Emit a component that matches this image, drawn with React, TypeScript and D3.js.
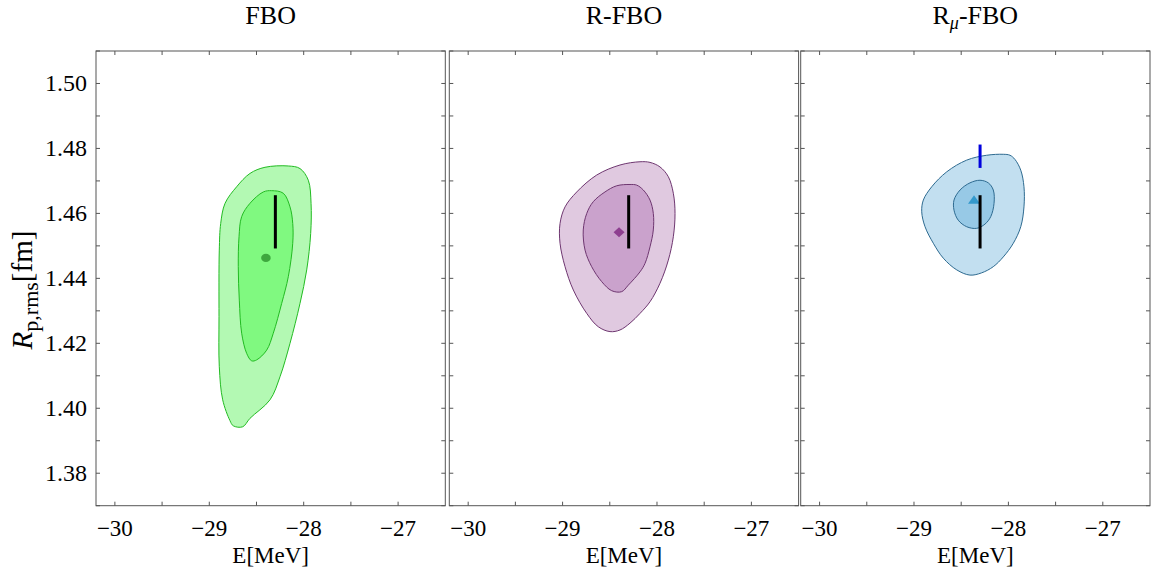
import React from "react";
import * as d3 from "d3";

// ---- Data ----
const eTicks = [-30, -29, -28, -27];
const eMinorTicks = [-30, -29.5, -29, -28.5, -28, -27.5, -27];
const rTicks = [1.38, 1.4, 1.42, 1.44, 1.46, 1.48, 1.5];
const rMinorTicks = [1.37, 1.38, 1.39, 1.4, 1.41, 1.42, 1.43, 1.44, 1.45, 1.46, 1.47, 1.48, 1.49, 1.5, 1.51];

const fboOuter: [number, number][] = [
  [-28.163, 1.4746], [-28.039, 1.4738], [-27.951, 1.4702], [-27.922, 1.4631], [-27.926, 1.4538],
  [-27.968, 1.4426], [-28.039, 1.4323], [-28.145, 1.42], [-28.251, 1.4097], [-28.357, 1.4026],
  [-28.569, 1.3969], [-28.646, 1.3943], [-28.746, 1.3946], [-28.781, 1.3962], [-28.858, 1.4026],
  [-28.894, 1.4128], [-28.897, 1.4282], [-28.894, 1.4487], [-28.879, 1.4569], [-28.833, 1.4631],
  [-28.71, 1.4682], [-28.569, 1.4723], [-28.41, 1.4742],
];
const fboInner: [number, number][] = [
  [-28.339, 1.467], [-28.216, 1.4662], [-28.145, 1.462], [-28.116, 1.4569], [-28.116, 1.4508],
  [-28.163, 1.4405], [-28.233, 1.4323], [-28.322, 1.4231], [-28.392, 1.4179], [-28.498, 1.4149],
  [-28.551, 1.4146], [-28.604, 1.4169], [-28.657, 1.4231], [-28.682, 1.4333], [-28.693, 1.4436],
  [-28.685, 1.4528], [-28.657, 1.459], [-28.569, 1.4631], [-28.428, 1.4666],
];
const rfboOuter: [number, number][] = [
  [-28.18, 1.4759], [-28.074, 1.4757], [-27.968, 1.4743], [-27.88, 1.4713], [-27.827, 1.4662],
  [-27.809, 1.46], [-27.827, 1.4528], [-27.88, 1.4456], [-27.968, 1.4385], [-28.074, 1.4328],
  [-28.18, 1.4292], [-28.286, 1.4262], [-28.392, 1.4241], [-28.498, 1.4236], [-28.622, 1.4251],
  [-28.744, 1.4292], [-28.886, 1.4364], [-28.974, 1.4436], [-29.027, 1.4508], [-29.027, 1.4569],
  [-28.974, 1.462], [-28.85, 1.4666], [-28.639, 1.4718], [-28.392, 1.4749],
];
const rfboInner: [number, number][] = [
  [-28.286, 1.4689], [-28.215, 1.4687], [-28.145, 1.4672], [-28.074, 1.4641], [-28.039, 1.46],
  [-28.039, 1.4549], [-28.074, 1.4497], [-28.127, 1.4446], [-28.18, 1.442], [-28.304, 1.4379],
  [-28.374, 1.4359], [-28.48, 1.4362], [-28.586, 1.439], [-28.692, 1.4436], [-28.762, 1.4487],
  [-28.781, 1.4549], [-28.744, 1.46], [-28.675, 1.4636], [-28.551, 1.4666], [-28.427, 1.4685],
];
const rmuOuter: [number, number][] = [
  [-28.054, 1.4782], [-27.983, 1.4779], [-27.93, 1.4766], [-27.869, 1.4733], [-27.835, 1.4682],
  [-27.835, 1.462], [-27.869, 1.4559], [-27.948, 1.4508], [-28.054, 1.4466], [-28.16, 1.4436],
  [-28.283, 1.4417], [-28.407, 1.441], [-28.547, 1.4426], [-28.689, 1.4462], [-28.795, 1.4508],
  [-28.883, 1.4559], [-28.918, 1.4605], [-28.901, 1.4641], [-28.812, 1.4682], [-28.653, 1.4728],
  [-28.442, 1.4764], [-28.23, 1.4779],
];
const rmuInner: [number, number][] = [
  [-28.301, 1.4702], [-28.213, 1.4694], [-28.16, 1.4672], [-28.152, 1.4631], [-28.187, 1.459],
  [-28.248, 1.4567], [-28.336, 1.4554], [-28.442, 1.4559], [-28.531, 1.4579], [-28.576, 1.461],
  [-28.576, 1.4641], [-28.512, 1.4672], [-28.407, 1.4694],
];

const centers: [number, number][] = [
  [-28.4, 1.4463],
  [-28.402, 1.4542],
  [-28.364, 1.4639],
];
const expE = -28.3;
const expR = [1.4492, 1.4656];
const muonicR = [1.474, 1.4812];

// ---- Layout ----
const W = 1159;
const H = 577;
const panelLefts = [96, 449.3, 800.7];
const panelW = 349.3;
const top = 51;
const bottom = 505.7;
const FONT = "'Liberation Serif', 'Times New Roman', serif";

const panels = [
  {
    outer: fboOuter, inner: fboInner,
    outerFill: "#b3f9b3", innerFill: "#80f980", stroke: "#22bb22", marker: "#3ea83e", kind: "circle",
  },
  {
    outer: rfboOuter, inner: rfboInner,
    outerFill: "#e0c9e0", innerFill: "#caa2cc", stroke: "#6e3670", marker: "#8e3f90", kind: "diamond",
  },
  {
    outer: rmuOuter, inner: rmuInner,
    outerFill: "#c2dff0", innerFill: "#97c9e6", stroke: "#2d6a90", marker: "#3399cc", kind: "triangle",
  },
];

function Title({ i, x }: { i: number; x: number }) {
  const common = { x, y: 24, textAnchor: "middle" as const, fontFamily: FONT, fontSize: 26, fill: "#000" };
  if (i === 0) return <text {...common}>FBO</text>;
  if (i === 1) return <text {...common}>R-FBO</text>;
  return (
    <text {...common}>
      R<tspan fontStyle="italic" fontSize={18} dy={5}>μ</tspan>
      <tspan dy={-5}>-FBO</tspan>
    </text>
  );
}

function Panel({ i }: { i: number }) {
  const p = panels[i];
  const left = panelLefts[i];
  const x = d3.scaleLinear().domain([-30.2, -26.5]).range([left, left + panelW]);
  const y = d3.scaleLinear().domain([1.37, 1.51]).range([bottom, top]);
  const line = d3
    .line<[number, number]>()
    .x((d) => x(d[0]))
    .y((d) => y(d[1]))
    .curve(d3.curveCatmullRomClosed.alpha(0.5));
  const [cx, cy] = [x(centers[i][0]), y(centers[i][1])];
  const tickLen = 4;
  const axisColor = "#555";
  let marker: React.ReactNode;
  if (p.kind === "circle") marker = <ellipse cx={cx} cy={cy} rx={4.8} ry={4.2} fill={p.marker} />;
  else if (p.kind === "diamond")
    marker = (
      <path d={`M${cx},${cy - 5}L${cx + 5.5},${cy}L${cx},${cy + 5}L${cx - 5.5},${cy}Z`} fill={p.marker} />
    );
  else
    marker = (
      <path d={`M${cx},${cy - 5.5}L${cx + 6},${cy + 3}L${cx - 6},${cy + 3}Z`} fill={p.marker} />
    );

  return (
    <g>
      <Title i={i} x={left + panelW / 2} />
      <path d={line(p.outer) ?? ""} fill={p.outerFill} stroke={p.stroke} strokeWidth={1} />
      <path d={line(p.inner) ?? ""} fill={p.innerFill} stroke={p.stroke} strokeWidth={1} />
      {marker}
      {i === 2 && (
        <line x1={x(expE)} x2={x(expE)} y1={y(muonicR[0])} y2={y(muonicR[1])} stroke="#0000dd" strokeWidth={3} />
      )}
      <line x1={x(expE)} x2={x(expE)} y1={y(expR[0])} y2={y(expR[1])} stroke="#000" strokeWidth={3} />
      {/* frame */}
      <rect x={left} y={top} width={panelW} height={bottom - top} fill="none" stroke={axisColor} strokeWidth={1} />
      {eMinorTicks.map((t) => (
        <g key={"xt" + t}>
          <line x1={x(t)} x2={x(t)} y1={bottom} y2={bottom - tickLen} stroke={axisColor} />
          <line x1={x(t)} x2={x(t)} y1={top} y2={top + tickLen} stroke={axisColor} />
        </g>
      ))}
      {rMinorTicks.map((t) => (
        <g key={"yt" + t}>
          <line x1={left} x2={left + tickLen} y1={y(t)} y2={y(t)} stroke={axisColor} />
          <line x1={left + panelW} x2={left + panelW - tickLen} y1={y(t)} y2={y(t)} stroke={axisColor} />
        </g>
      ))}
      {eTicks.map((t) => (
        <text key={"xl" + t} x={x(t)} y={535.5} textAnchor="middle" fontFamily={FONT} fontSize={23}>
          {"\u2212" + Math.abs(t)}
        </text>
      ))}
      <text x={left + panelW / 2} y={562.5} textAnchor="middle" fontFamily={FONT} fontSize={23}>
        E[MeV]
      </text>
      {i === 0 &&
        rTicks.map((t) => (
          <text key={"yl" + t} x={87} y={y(t) + 8} textAnchor="end" fontFamily={FONT} fontSize={24}>
            {t.toFixed(2)}
          </text>
        ))}
    </g>
  );
}

export default function App() {
  return (
    <svg width={W} height={H} style={{ position: "absolute", left: 0, top: 0, background: "#fff" }}>
      <rect width={W} height={H} fill="#fff" />
      {[0, 1, 2].map((i) => (
        <Panel key={i} i={i} />
      ))}
      <text
        transform="translate(32,290) rotate(-90)"
        textAnchor="middle"
        fontFamily={FONT}
        fontSize={29}
      >
        <tspan fontStyle="italic">R</tspan>
        <tspan fontSize={22} dy={6}>p,rms</tspan>
        <tspan dy={-6}>[fm]</tspan>
      </text>
    </svg>
  );
}
